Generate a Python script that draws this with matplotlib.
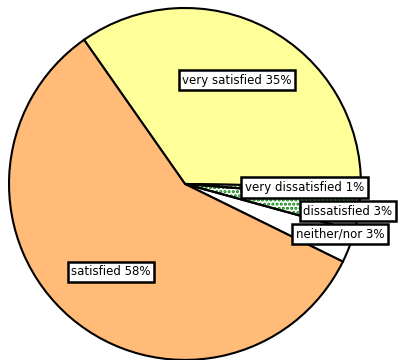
import numpy as np
import matplotlib.pyplot as plt
from matplotlib.patches import Wedge

# satisfaction shares, clockwise from the top left
labels = ['very satisfied', 'very dissatisfied', 'dissatisfied', 'neither/nor', 'satisfied']
shares = [35, 1, 3, 3, 58]
colors = ['#FFFF99', 'white', 'white', 'white', '#FFBB77']
dotted = [False, True, True, False, False]

# label box centres in axes data units
label_xy = [(0.295, 0.59), (0.68, -0.02), (0.925, -0.155), (0.88, -0.285), (-0.42, -0.50)]

plt.rcParams['hatch.linewidth'] = 1.5

fig = plt.figure(figsize=(3.99, 3.6), dpi=100)
ax = fig.add_axes([0.0226, 0.0, 0.882, 0.978])

wedges, _ = ax.pie(shares, colors=colors, startangle=125, counterclock=False,
                   wedgeprops=dict(edgecolor='black', linewidth=1.5))

# green dot pattern for the dissatisfied slices, with a black outline on top
for w, d in zip(wedges, dotted):
    if d:
        w.set_hatch('....')
        w.set_edgecolor('#008000')
        w.set_linewidth(0)
        ax.add_patch(Wedge(w.center, w.r, w.theta1, w.theta2, fill=False,
                           edgecolor='black', linewidth=1.5, zorder=w.get_zorder() + 0.1))

for lab, s, (x, y) in zip(labels, shares, label_xy):
    ax.text(x, y, '%s %d%%' % (lab, s), ha='center', va='center', fontsize=8.5, zorder=5,
            bbox=dict(boxstyle='square,pad=0.3', facecolor='white', edgecolor='black', linewidth=1.8))

ax.set_xlim(-1, 1)
ax.set_ylim(-1, 1)
ax.set_aspect('equal')
ax.axis('off')

fig.savefig('out.png', dpi=100)
